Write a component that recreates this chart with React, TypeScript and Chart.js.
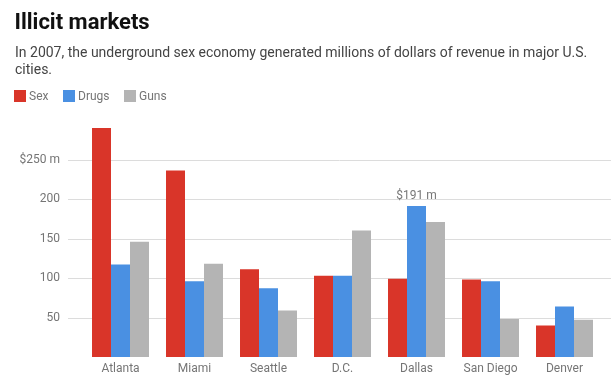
import React, { useEffect, useRef } from 'react';
import { Chart, registerables } from 'chart.js';

Chart.register(...registerables);

const categories = ['Atlanta', 'Miami', 'Seattle', 'D.C.', 'Dallas', 'San Diego', 'Denver'];
const sexValues = [290, 236, 111, 103, 99, 98, 40];
const drugValues = [117, 96, 87, 103, 191, 96, 64];
const gunValues = [146, 118, 59, 160, 171, 48, 47];
const seriesNames = ['Sex', 'Drugs', 'Guns'];
const seriesColors = ['#d93529', '#4a90e2', '#b4b4b4'];
const yTickValues = [50, 100, 150, 200, 250];
const yMin = 0;
const yMax = 300;
const yStep = 50;
const topTickLabel = '$250 m';
const annotationSeries = 1;
const annotationIndex = 4;
const annotationLabel = '$191 m';

const TITLE = 'Illicit markets';
const SUBTITLE = 'In 2007, the underground sex economy generated millions of dollars of revenue in major U.S. cities.';

const FONT = 'Roboto, "Noto Sans", sans-serif';

const gridPlugin = {
  id: 'customGrid',
  beforeDatasetsDraw(chart: any) {
    const y = chart.scales.y;
    const ctx = chart.ctx;
    ctx.save();
    ctx.strokeStyle = '#dcdcdc';
    ctx.lineWidth = 1;
    yTickValues.forEach((v) => {
      const py = Math.round(y.getPixelForValue(v)) + 0.5;
      ctx.beginPath();
      ctx.moveTo(chart.chartArea.left - 15.5, py);
      ctx.lineTo(chart.width, py);
      ctx.stroke();
    });
    ctx.restore();
  },
};

const annotationPlugin = {
  id: 'barAnnotation',
  afterDatasetsDraw(chart: any) {
    const el = chart.getDatasetMeta(annotationSeries).data[annotationIndex];
    if (!el) return;
    const ctx = chart.ctx;
    ctx.save();
    ctx.font = '12px ' + FONT;
    ctx.fillStyle = '#777777';
    ctx.textAlign = 'center';
    ctx.textBaseline = 'alphabetic';
    ctx.fillText(annotationLabel, el.x, el.y - 7);
    ctx.restore();
  },
};

export default function App() {
  const canvasRef = useRef<HTMLCanvasElement | null>(null);

  useEffect(() => {
    if (!canvasRef.current) return;
    const seriesValues = [sexValues, drugValues, gunValues];
    const chart = new Chart(canvasRef.current, {
      type: 'bar',
      data: {
        labels: categories,
        datasets: seriesNames.map((name, i) => ({
          label: name,
          data: seriesValues[i],
          backgroundColor: seriesColors[i],
          borderWidth: 0,
          categoryPercentage: 0.77,
          barPercentage: 1.0,
        })),
      },
      options: {
        animation: false,
        responsive: false,
        devicePixelRatio: 1,
        layout: { padding: { top: 120, right: 9.5, bottom: 0, left: 0 } },
        plugins: {
          legend: { display: false },
          title: { display: false },
          tooltip: { enabled: false },
        },
        scales: {
          x: {
            grid: { display: false, drawTicks: false },
            border: { display: false },
            ticks: {
              color: '#757575',
              font: { family: FONT, size: 12 },
              padding: 5,
              maxRotation: 0,
              autoSkip: false,
            },
            afterFit(scale: any) {
              scale.height = 20;
              scale.paddingTop = 0;
              scale.paddingBottom = 0;
            },
          },
          y: {
            min: yMin,
            max: yMax,
            grid: { display: false, drawTicks: false },
            border: { display: false },
            ticks: {
              stepSize: yStep,
              color: '#757575',
              font: { family: FONT, size: 12 },
              padding: 23.5,
              callback: (v: any) => {
                if (v === yTickValues[yTickValues.length - 1]) return topTickLabel;
                return yTickValues.includes(v) ? String(v) : '';
              },
            },
            afterFit(scale: any) {
              scale.width = 83.5;
              scale.paddingTop = 0;
              scale.paddingBottom = 0;
            },
          },
        },
      },
      plugins: [gridPlugin, annotationPlugin],
    });
    return () => chart.destroy();
  }, []);

  return (
    <div style={{ position: 'absolute', left: 0, top: 0, width: 611, height: 377, background: '#fff', fontFamily: FONT, overflow: 'hidden' }}>
      <canvas
        ref={canvasRef}
        width={611}
        height={377}
        style={{ position: 'absolute', left: 0, top: 0, width: 611, height: 377, display: 'block' }}
      />
      <div
        style={{
          position: 'absolute',
          left: 14.5,
          top: 10.5,
          fontSize: 22,
          lineHeight: '22px',
          fontWeight: 700,
          color: '#111',
          whiteSpace: 'nowrap',
        }}
      >
        {TITLE}
      </div>
      <div
        style={{
          position: 'absolute',
          left: 15,
          top: 44,
          width: 581,
          fontSize: 14,
          lineHeight: '17px',
          color: '#444',
        }}
      >
        {SUBTITLE}
      </div>
      {seriesNames.map((name, i) => (
        <div key={name} style={{ position: 'absolute', left: [14, 63, 124][i], top: 90, height: 12, display: 'flex' }}>
          <span style={{ display: 'inline-block', width: 12, height: 12, background: seriesColors[i] }} />
          <span style={{ marginLeft: 3, fontSize: 12, lineHeight: '12px', color: '#757575' }}>{name}</span>
        </div>
      ))}
    </div>
  );
}
